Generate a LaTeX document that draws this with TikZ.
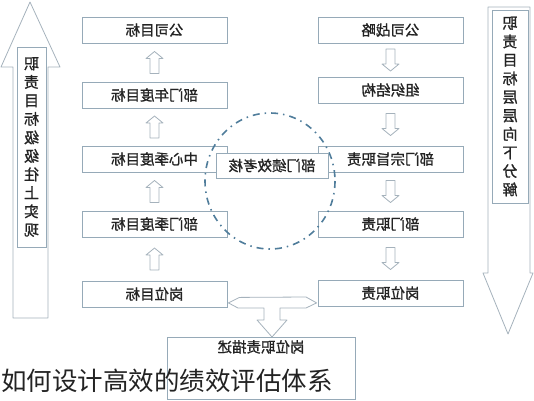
\documentclass[tikz,border=0pt]{standalone}
\usepackage{fontspec}
\setmainfont{Noto Sans CJK SC}
\newfontfamily\heavycjk[FakeBold=1.2]{Noto Sans CJK SC}
\usepackage{tikz}
\usetikzlibrary{calc}

\definecolor{boxline}{RGB}{150,170,184}
\definecolor{arrline}{RGB}{165,178,188}
\definecolor{ringline}{RGB}{80,125,155}
\definecolor{inktext}{RGB}{35,35,35}
\newcommand{\mirtext}[1]{\reflectbox{#1}}

\tikzset{
        box/.style = {draw=boxline, line width=0.8pt, fill=white, minimum width=145pt,
                minimum height=26pt, inner sep=0pt, text=inktext, font=\heavycjk\fontsize{14.5}{16}\selectfont},
        sidebox/.style = {draw=boxline, line width=0.8pt, fill=white, inner sep=0pt, text=inktext,
                align=center, font=\heavycjk\fontsize{15}{18.5}\selectfont},
        hollow/.style = {draw=arrline, line width=0.8pt, fill=white, line join=round},
        uparr/.pic = {\draw[hollow] (0,-11) -- (8.5,-4) -- (4.5,-4) -- (4.5,11) -- (-4.5,11) -- (-4.5,-4) -- (-8.5,-4) -- cycle;},
        downarr/.pic = {\draw[hollow] (0,11) -- (8.5,4) -- (4.5,4) -- (4.5,-11) -- (-4.5,-11) -- (-4.5,4) -- (-8.5,4) -- cycle;}
}

\begin{document}
\begin{tikzpicture}[x=1pt, y=-1pt]
        \useasboundingbox (0,0) rectangle (534,400);

        % big side arrows
        \draw[hollow] (30,2) -- (60,67) -- (48,67) -- (48,318) -- (13,318) -- (13,67) -- (1,67) -- cycle;
        \draw[hollow] (488,7) -- (530,7) -- (530,273) -- (533,273) -- (508,334) -- (483,273) -- (488,273) -- cycle;
        \node[sidebox, minimum width=29pt, minimum height=200pt] (upnote) at (31.5,147)
                {\mirtext{职}\\\mirtext{责}\\\mirtext{目}\\\mirtext{标}\\\mirtext{级}\\\mirtext{级}\\\mirtext{往}\\\mirtext{上}\\\mirtext{实}\\\mirtext{现}};
        \node[sidebox, minimum width=36pt, minimum height=193pt] (downnote) at (510,106.5)
                {\mirtext{职}\\\mirtext{责}\\\mirtext{目}\\\mirtext{标}\\\mirtext{层}\\\mirtext{层}\\\mirtext{向}\\\mirtext{下}\\\mirtext{分}\\\mirtext{解}};

        % left column: goals going up
        \node[box] (lco)   at (154.5,30)  {\mirtext{公司目标}};
        \node[box] (lyear) at (154.5,95)  {\mirtext{部门年度目标}};
        \node[box] (lcen)  at (154.5,159) {\mirtext{中心季度目标}};
        \node[box] (lquar) at (154.5,224) {\mirtext{部门季度目标}};
        \node[box] (lpost) at (154.5,294) {\mirtext{岗位目标}};

        % right column: duties going down
        \node[box] (rstra) at (390.5,30)  {\mirtext{公司战略}};
        \node[box] (rorg)  at (390.5,90)  {\mirtext{组织结构}};
        \node[box] (raim)  at (390.5,159) {\mirtext{部门宗旨职责}};
        \node[box] (rdept) at (390.5,224) {\mirtext{部门职责}};
        \node[box] (rpost) at (390.5,293) {\mirtext{岗位职责}};

        \foreach \a/\b in {lco/lyear, lyear/lcen, lcen/lquar, lquar/lpost}
                \pic at ($(\a.south)!0.5!(\b.north)$) {uparr};
        \foreach \a/\b in {rstra/rorg, rorg/raim, raim/rdept, rdept/rpost}
                \pic at ($(\a.south)!0.5!(\b.north)$) {downarr};

        % review ring in the middle
        \draw[ringline, line width=1.6pt, dash pattern=on 7pt off 5pt on 1.5pt off 5pt]
                (270,181) ellipse [x radius=65, y radius=68];
        \node[box, minimum width=112pt, minimum height=25pt] (review) at (272,165.5) {\mirtext{部门绩效考核}};

        % job description box and the joining arrow
        \node[box, minimum width=188pt, minimum height=0pt, anchor=north, text height=12pt,
                text depth=44pt, inner ysep=3pt] (jdesc) at (261,337) {\mirtext{岗位职责描述}};
        \coordinate (tleft) at ($(lpost.south east)+(1,-4.5)$);
        \coordinate (tright) at ($(rpost.south west)+(-1,-3.5)$);
        \draw[hollow] (tleft) -- ++(11,-5.5) -- (306,297) -- (tright) -- (306,308) -- (280,308) -- (280,320)
                -- (287,320) -- (jdesc.north -| 272,0) -- (257,320) -- (264,320) -- (264,308) -- (238,308) -- cycle;

        % caption
        \node[anchor=west, inner sep=0pt, text=inktext, font=\fontsize{25.5}{28}\selectfont] (title) at (1,381)
                {如何设计高效的绩效评估体系};
\end{tikzpicture}
\end{document}
